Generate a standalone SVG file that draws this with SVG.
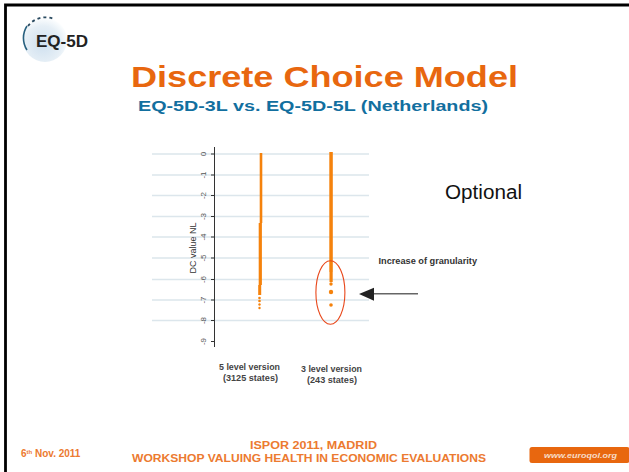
<svg xmlns="http://www.w3.org/2000/svg" width="629" height="472" viewBox="0 0 629 472">
<style>
text{font-family:"Liberation Sans",Arial,sans-serif}
.grid{stroke:#dce6ec;stroke-width:1.500;fill:none}
.tick{stroke:#333;stroke-width:1;fill:none}
.tl{font-size:8px;fill:#555;text-anchor:middle}
.cap{font-size:9px;font-weight:bold;fill:#444}
.foot{font-size:11px;font-weight:bold;fill:#ec7a30}
.dot{fill:#f5820c}
</style>
<defs><radialGradient id="globe" cx=".45" cy=".6" r=".6"><stop offset="0" stop-color="#cfe0ef"/><stop offset=".7" stop-color="#e6eff6"/><stop offset="1" stop-color="#fbfdfe"/></radialGradient></defs>
<rect x="0" y="0" width="629" height="472" fill="#fff"/>
<path d="M5.500 472V5H629" fill="none" stroke="#000" stroke-width="2.800"/>
<g id="logo">
<circle cx="45" cy="40" r="22" fill="url(#globe)"/>
<path d="M27 26A22 22 0 0 0 27 50" fill="none" stroke="#27607f" stroke-width="1.600"/>
<path d="M28 26A22 22 0 0 1 54 19" fill="none" stroke="#2a4a60" stroke-width="1.800" stroke-dasharray="3 3"/>
<text x="36" y="47" font-size="16" font-weight="bold" fill="#222" textLength="52" lengthAdjust="spacingAndGlyphs">EQ-5D</text>
</g>
<g id="title">
<text x="131" y="87" font-size="29.500" font-weight="bold" fill="#e8670f" textLength="387" lengthAdjust="spacingAndGlyphs">Discrete Choice Model</text>
<text x="138" y="110.500" font-size="14.500" font-weight="bold" fill="#126f9f" textLength="350" lengthAdjust="spacingAndGlyphs">EQ-5D-3L vs. EQ-5D-5L (Netherlands)</text>
</g>
<g id="chart">
<path class="grid" d="M152 154H369M152 175H369M152 195.500H369M152 216.500H369M152 237H369M152 258H369M152 279.500H369M152 300H369M152 320.500H369"/>
<path class="tick" d="M214.500 147V347M211 154H215M211 175H215M211 195.500H215M211 216.500H215M211 237H215M211 258H215M211 279.500H215M211 300H215M211 320.500H215M211 341.500H215"/>
<g class="tl">
<text transform="translate(206 154) rotate(-90)">0</text>
<text transform="translate(206 175) rotate(-90)">-1</text>
<text transform="translate(206 195.500) rotate(-90)">-2</text>
<text transform="translate(206 216.500) rotate(-90)">-3</text>
<text transform="translate(206 237) rotate(-90)">-4</text>
<text transform="translate(206 258) rotate(-90)">-5</text>
<text transform="translate(206 279.500) rotate(-90)">-6</text>
<text transform="translate(206 300) rotate(-90)">-7</text>
<text transform="translate(206 320.500) rotate(-90)">-8</text>
<text transform="translate(206 341.500) rotate(-90)">-9</text>
</g>
<text transform="translate(196 248) rotate(-90)" font-size="9" fill="#333" text-anchor="middle">DC value NL</text>
<rect class="dot" x="259.700" y="153" width="2.600" height="70"/>
<rect class="dot" x="258.700" y="223" width="3.200" height="62"/>
<rect class="dot" x="258.200" y="285" width="3" height="10"/>
<circle class="dot" cx="259.500" cy="298" r="1.300"/><circle class="dot" cx="259.500" cy="301" r="1.300"/><circle class="dot" cx="259.500" cy="304.500" r="1.200"/><circle class="dot" cx="259.500" cy="308" r="1.200"/>
<rect class="dot" x="329.300" y="152" width="3.500" height="120"/>
<rect class="dot" x="329.500" y="272" width="3.200" height="10"/>
<circle class="dot" cx="331" cy="284" r="1.700"/><circle class="dot" cx="331" cy="292" r="2.200"/><circle class="dot" cx="331" cy="305" r="1.800"/>
</g>
<g id="annotations">
<ellipse cx="330.400" cy="292.500" rx="14.500" ry="31.700" fill="none" stroke="#e8471a" stroke-width="1.100"/>
<path d="M373 293.700H418" stroke="#666" stroke-width="1.400" fill="none"/>
<path d="M359 294L374 287.800V300.700Z" fill="#222"/>
<text x="445" y="199" font-size="20" fill="#111" textLength="77" lengthAdjust="spacingAndGlyphs">Optional</text>
<text x="378.500" y="264" font-size="8.800" font-weight="bold" fill="#333" textLength="98.500" lengthAdjust="spacingAndGlyphs">Increase of granularity</text>
<text class="cap" x="219" y="370" textLength="61" lengthAdjust="spacingAndGlyphs">5 level version</text>
<text class="cap" x="223" y="381" textLength="55" lengthAdjust="spacingAndGlyphs">(3125 states)</text>
<text class="cap" x="301" y="371.500" textLength="61" lengthAdjust="spacingAndGlyphs">3 level version</text>
<text class="cap" x="307" y="382.500" textLength="50" lengthAdjust="spacingAndGlyphs">(243 states)</text>
</g>
<g id="footer">
<text x="21" y="457" font-size="10" font-weight="bold" fill="#ec7a30">6<tspan font-size="6" dy="-3">th</tspan><tspan dy="3"> Nov. 2011</tspan></text>
<text class="foot" x="250" y="449" textLength="127" lengthAdjust="spacingAndGlyphs">ISPOR 2011, MADRID</text>
<text class="foot" x="132" y="462" textLength="354" lengthAdjust="spacingAndGlyphs">WORKSHOP VALUING HEALTH IN ECONOMIC EVALUATIONS</text>
<rect x="529.500" y="447" width="100" height="16" rx="2.500" fill="#e8670f"/>
<text x="544" y="458" font-size="8" font-style="italic" font-weight="bold" fill="#f7dcc8" textLength="73" lengthAdjust="spacingAndGlyphs">www.euroqol.org</text>
</g>
</svg>
